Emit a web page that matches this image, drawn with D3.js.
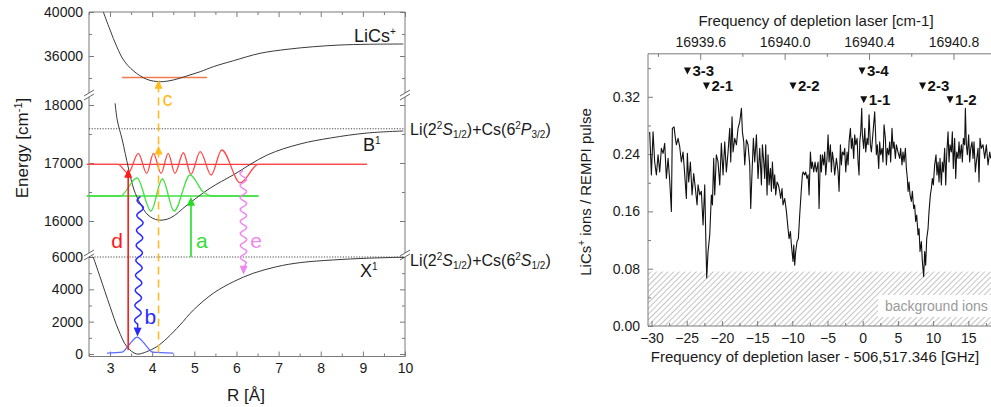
<!DOCTYPE html>
<html><head><meta charset="utf-8">
<script src="https://cdn.jsdelivr.net/npm/d3@7"></script>
<style>body{margin:0;background:#fff}svg{display:block}text{font-family:"Liberation Sans",Arial,sans-serif}</style>
</head><body><svg id="c" width="991" height="407"></svg>
<script>
// ================= LEFT PANEL DATA (R in Å, E in cm-1) =================
const xTicksR = [3,4,5,6,7,8,9,10];
const xMinorR = [2.5,3.5,4.5,5.5,6.5,7.5,8.5,9.5];
const yMajorTop = [36000,40000], yMinorTop = [34000,38000];
const yMajorMid = [16000,17000,18000], yMinorMid = [16500,17500];
const yMajorBot = [0,2000,4000,6000], yMinorBot = [1000,3000,5000];

const xStateR = [2.60,2.76,3.00,3.20,3.40,3.63,3.87,4.11,4.35,4.66,4.98,5.45,5.93,6.40,6.96,7.51,8.30,9.10,9.97];
const xStateE = [6000,4785,2930,1486,454,0,144,454,970,1795,2724,3757,4475,4995,5404,5652,5819,5924,5986];
const bStateR = [3.12,3.17,3.29,3.43,3.57,3.71,3.90,4.14,4.43,4.83,5.38,5.92,6.73,7.51,8.23,9.10,9.96];
const bStateE = [18030,17741,17396,16931,16534,16310,16103,16017,16052,16276,16569,16793,17138,17328,17431,17517,17552];
const ionR = [2.84,3.00,3.16,3.32,3.55,3.87,4.19,4.50,4.82,5.14,5.45,5.93,6.56,7.20,7.83,8.46,9.10,9.96];
const ionE = [40000,38360,36845,35636,34664,33882,33664,33818,34180,34573,35027,35573,36245,36609,36845,37000,37064,37090];

const asymP = 17590, asymS = 6000;
const redLevel = 16977, redLevelR = [2.45, 9.10];
const redWaveR = [2.45,3.19,3.43,3.67,3.87,4.03,4.21,4.38,4.54,4.74,4.92,5.14,5.40,5.65,6.09,6.52,9.10];
const redWaveE = [16977,16977,16822,17167,16822,17167,16822,17167,16822,17177,16805,17195,16793,17224,16660,16977,16977];
const greenLevel = 16431, greenLevelR = [2.45, 6.52];
const greenWaveR = [2.45,3.24,3.64,3.97,4.24,4.52,4.90,5.21,5.45,6.52];
const greenWaveE = [16431,16431,16741,16172,16724,16172,16793,16500,16431,16431];
const blueWaveR = [2.93,3.29,3.43,3.55,3.64,3.74,3.86,4.00,4.50];
const blueWaveE = [60,120,500,870,1050,870,500,120,60];
const ionLevel = 34040, ionLevelR = [3.28, 5.30];

const arrowD = {R:3.43, E0:250, E1:16900};
const arrowA = {R:4.92, E0:6000, E1:16420};
const arrowC = {R:4.15, E0:100, E1:33850, Emid:17300};
const waveB = {R0:3.72, E0:16420, R1:3.65, E1:1080};
const waveE = {R0:6.16, E0:16870, R1:6.17, E1:4900};

// ================= RIGHT PANEL DATA =================
const gTicks = [-30,-25,-20,-15,-10,-5,0,5,10,15];
const gMinor = [-27.5,-22.5,-17.5,-12.5,-7.5,-2.5,2.5,7.5,12.5,17.5];
const vTicks = [0,0.08,0.16,0.24,0.32];
const vMinor = [0.04,0.12,0.20,0.28,0.36];
const cmTicks = [16939.6,16940.0,16940.4,16940.8];
const cmMinor = [16939.4,16939.8,16940.2,16940.6,16941.0];
const cmAtZero = 16940.37, ghzPerCm = 29.98;
const bgLevel = 0.076;
const annLabels = ["3-3","2-1","2-2","3-4","1-1","2-3","1-2"];
const annX = [-24.9,-22.2,-9.9,-0.1,0.15,8.5,12.4];
const annY = [0.356,0.335,0.335,0.356,0.316,0.335,0.316];

const specX = [-30.26,-30.02,-29.78,-29.55,-29.31,-29.07,-28.84,-28.60,-28.36,-28.13,-27.89,-27.65,-27.42,-27.18,-27.04,-26.80,-26.61,-26.47,-26.23,-25.99,-25.76,-25.52,-25.28,-25.05,-24.91,-24.72,-24.48,-24.24,-24.01,-23.77,-23.53,-23.39,-23.15,-22.92,-22.68,-22.44,-22.30,-22.16,-21.97,-21.73,-21.50,-21.35,-21.17,-21.02,-20.79,-20.55,-20.31,-20.08,-19.84,-19.60,-19.37,-19.13,-18.89,-18.75,-18.56,-18.42,-18.18,-17.94,-17.71,-17.47,-17.23,-17.09,-16.90,-16.76,-16.52,-16.29,-16.05,-15.91,-15.72,-15.53,-15.34,-15.10,-14.87,
-14.63,-14.39,-14.25,-14.06,-13.92,-13.78,-13.59,-13.45,-13.30,-13.11,-12.97,-12.83,-12.64,-12.50,-12.36,-12.17,-11.98,-11.79,-11.65,-11.46,-11.32,-11.08,-10.84,-10.61,-10.46,-10.27,-10.13,-9.90,-9.80,-9.66,-9.52,-9.33,-9.14,-8.95,-8.71,-8.57,-8.47,-8.24,-8.10,-7.91,-7.76,-7.62,-7.43,-7.29,-7.15,-6.96,-6.77,-6.58,-6.34,-6.20,-6.01,-5.87,-5.73,-5.54,-5.40,-5.25,-5.07,-4.92,-4.78,-4.59,-4.45,-4.31,-4.12,-3.98,-3.74,-3.50,-3.36,-3.17,-3.03,-2.89,-2.70,-2.56,-2.41,-2.22,-2.08,-1.94,-1.75,-1.61,-1.47,-1.28,-1.14,-0.99,-0.80,-0.66,-0.52,-0.42,-0.28,-0.14,-0.05,0.14,0.29,0.43,0.62,0.76,0.90,1.09,1.23,1.47,
1.70,1.94,2.08,2.27,2.41,2.55,2.74,2.88,3.03,3.22,3.36,3.50,3.69,3.83,3.97,4.16,4.30,4.45,4.64,4.78,5.01,5.25,5.39,5.58,5.72,5.87,6.06,6.20,6.34,6.44,6.58,6.72,6.91,7.05,7.24,7.38,7.52,7.67,7.86,8.00,8.14,8.33,8.47,8.66,8.80,8.94,9.09,9.28,9.42,9.61,9.75,9.89,10.03,10.22,10.41,10.55,10.70,10.84,10.98,11.17,11.31,11.45,11.64,11.79,11.93,12.12,12.26,12.40,12.59,12.73,12.87,13.06,13.21,13.35,13.54,13.68,13.82,14.01,14.15,14.30,14.48,14.58,14.72,14.86,15.05,15.19,15.34,15.53,15.67,15.81,16.00,16.14,16.38,16.52,16.66,16.85,17.09,17.33,17.56,17.80,18.04,18.18];
const specY = [0.271,0.211,0.271,0.229,0.211,0.239,0.215,0.248,0.241,0.255,0.206,0.234,0.204,0.160,0.276,0.278,0.262,0.253,0.262,0.250,0.229,0.243,0.211,0.178,0.241,0.201,0.229,0.183,0.213,0.192,0.169,0.197,0.183,0.188,0.141,0.197,0.127,0.067,0.104,0.127,0.183,0.169,0.234,0.183,0.239,0.229,0.197,0.255,0.211,0.257,0.215,0.243,0.276,0.229,0.292,0.243,0.262,0.253,0.276,0.285,0.304,0.271,0.257,0.225,0.260,0.253,0.225,0.164,0.215,0.262,0.229,0.267,0.206,
0.248,0.197,0.253,0.229,0.206,0.253,0.183,0.239,0.197,0.220,0.188,0.229,0.192,0.211,0.183,0.201,0.197,0.188,0.178,0.192,0.169,0.178,0.160,0.136,0.122,0.132,0.113,0.090,0.113,0.085,0.104,0.118,0.122,0.155,0.192,0.211,0.215,0.211,0.215,0.206,0.211,0.183,0.243,0.220,0.229,0.215,0.229,0.215,0.229,0.164,0.239,0.215,0.239,0.225,0.243,0.211,0.234,0.267,0.229,0.253,0.215,0.243,0.229,0.211,0.234,0.215,0.188,0.253,0.225,0.243,0.239,0.248,0.215,0.243,0.225,0.257,0.276,0.248,0.262,0.234,0.267,0.253,0.262,0.229,0.211,0.257,0.271,0.304,0.267,0.248,0.276,0.243,0.262,0.253,0.295,0.253,0.243,0.271,
0.299,0.239,0.253,0.220,0.257,0.239,0.248,0.229,0.281,0.262,0.225,0.248,0.239,0.257,0.229,0.276,0.248,0.257,0.234,0.253,0.243,0.234,0.248,0.225,0.243,0.229,0.248,0.220,0.206,0.188,0.201,0.183,0.174,0.188,0.164,0.169,0.146,0.155,0.127,0.136,0.104,0.118,0.090,0.069,0.104,0.085,0.122,0.136,0.160,0.183,0.192,0.206,0.197,0.225,0.239,0.211,0.229,0.201,0.234,0.197,0.229,0.215,0.248,0.197,0.239,0.271,0.229,0.253,0.243,0.271,0.220,0.262,0.206,0.243,0.234,0.257,0.234,0.253,0.229,0.262,0.253,0.304,0.253,0.239,0.267,0.229,0.248,0.257,0.234,0.257,0.215,0.229,0.248,0.201,0.262,0.248,0.253,0.234,0.253,0.225,0.243,0.234];

// ================= DRAWING =================
const svg = d3.select("#c");
svg.append("rect").attr("width",991).attr("height",407).attr("fill","#fff");
const AX = "#7a7a7a", TXT = "#1a1a1a";

const xR = d3.scaleLinear().domain([2.5,10]).range([89,405]);
const yTop = d3.scaleLinear().domain([36000,40000]).range([56,12]);
const yMid = d3.scaleLinear().domain([16000,18000]).range([221,105]);
const yBot = d3.scaleLinear().domain([0,6000]).range([354,257]);
const yE = e => e > 25000 ? yTop(e) : (e > 10000 ? yMid(e) : yBot(e));
const LB = {l:89, r:405, t:12, b:356.5};
const breaks = [95, 255];

const L = svg.append("g");
function styleAxis(g){ g.select(".domain").remove(); g.selectAll("line").attr("stroke",AX);
  g.selectAll("text").attr("fill",TXT).style("font-size","14px"); }

[[yTop,yMajorTop,yMinorTop],[yMid,yMajorMid,yMinorMid],[yBot,yMajorBot,yMinorBot]].forEach(([s,maj,min])=>{
  L.append("g").attr("transform",`translate(${LB.l},0)`).call(d3.axisLeft(s).tickValues(maj).tickSize(-5).tickPadding(6).tickFormat(d3.format("d"))).call(styleAxis);
  L.append("g").attr("transform",`translate(${LB.l},0)`).call(d3.axisLeft(s).tickValues(min).tickSize(-3).tickFormat("")).call(styleAxis);
  L.append("g").attr("transform",`translate(${LB.r},0)`).call(d3.axisRight(s).tickValues(maj).tickSize(-5).tickFormat("")).call(styleAxis);
  L.append("g").attr("transform",`translate(${LB.r},0)`).call(d3.axisRight(s).tickValues(min).tickSize(-3).tickFormat("")).call(styleAxis);
});
L.append("g").attr("transform",`translate(0,${LB.b})`).call(d3.axisBottom(xR).tickValues(xTicksR).tickSize(-5).tickPadding(7).tickFormat(d3.format("d"))).call(styleAxis);
L.append("g").attr("transform",`translate(0,${LB.b})`).call(d3.axisBottom(xR).tickValues(xMinorR).tickSize(-3).tickFormat("")).call(styleAxis);
L.append("g").attr("transform",`translate(0,${LB.t})`).call(d3.axisTop(xR).tickValues(xTicksR).tickSize(-5).tickFormat("")).call(styleAxis);
L.append("g").attr("transform",`translate(0,${LB.t})`).call(d3.axisTop(xR).tickValues(xMinorR).tickSize(-3).tickFormat("")).call(styleAxis);

L.append("line").attr("x1",LB.l).attr("x2",LB.r).attr("y1",LB.t).attr("y2",LB.t).attr("stroke",AX);
L.append("line").attr("x1",LB.l).attr("x2",LB.r).attr("y1",LB.b).attr("y2",LB.b).attr("stroke",AX);
[LB.l,LB.r].forEach(x=>{
  const ys=[LB.t,breaks[0]-2,breaks[0]+2,breaks[1]-2,breaks[1]+2,LB.b];
  for(let i=0;i<ys.length;i+=2) L.append("line").attr("x1",x).attr("x2",x).attr("y1",ys[i]).attr("y2",ys[i+1]).attr("stroke",AX);
  breaks.forEach(y=>{
    [-2,2].forEach(o=>L.append("line").attr("x1",x-5).attr("y1",y+o+3).attr("x2",x+5).attr("y2",y+o-3).attr("stroke","#555").attr("stroke-width",0.9));
  });
});

[asymP, asymS].forEach(e=>L.append("line").attr("x1",LB.l).attr("x2",LB.r).attr("y1",yE(e)).attr("y2",yE(e))
  .attr("stroke","#333").attr("stroke-width",0.9).attr("stroke-dasharray","1.2,1.5"));

const lineRE = d3.line().x(d=>xR(d[0])).y(d=>yE(d[1])).curve(d3.curveMonotoneX);
const zip = (a,b)=>a.map((v,i)=>[v,b[i]]);
const lineRENat = d3.line().x(d=>xR(d[0])).y(d=>yE(d[1])).curve(d3.curveCatmullRom.alpha(0.5));

L.append("path").attr("d",lineRE(zip(redLevelR,[redLevel,redLevel]))).attr("stroke","#ff3b3b").attr("stroke-width",1.4).attr("fill","none");
L.append("path").attr("d",lineRE(zip(greenLevelR,[greenLevel,greenLevel]))).attr("stroke","#3ee03e").attr("stroke-width",1.4).attr("fill","none");
L.append("path").attr("d",lineRE(zip(ionLevelR,[ionLevel,ionLevel]))).attr("stroke","#f47a4a").attr("stroke-width",1.4).attr("fill","none");

[[xStateR,xStateE],[bStateR,bStateE],[ionR,ionE]].forEach(([r,e])=>
  L.append("path").attr("d",lineRENat(zip(r,e))).attr("stroke","#3a3a3a").attr("stroke-width",1).attr("fill","none"));

L.append("path").attr("d",lineRE(zip(redWaveR,redWaveE))).attr("stroke","#ff4a4a").attr("stroke-width",1.3).attr("fill","none");
L.append("path").attr("d",lineRE(zip(greenWaveR,greenWaveE))).attr("stroke","#44e044").attr("stroke-width",1.3).attr("fill","none");
L.append("path").attr("d",lineRE(zip(blueWaveR,blueWaveE))).attr("stroke","#5a6cff").attr("stroke-width",1.3).attr("fill","none");

function arrowHead(g,x,y,ux,uy,col,len=9,hw=4){
  const px=-uy,py=ux, bx=x-ux*len, by=y-uy*len;
  g.append("path").attr("d",`M${x},${y}L${bx+px*hw},${by+py*hw}L${bx-px*hw},${by-py*hw}Z`).attr("fill",col);
}
function straightArrow(g,R,E0,E1,col,dash){
  const x=xR(R), y0=yE(E0), y1=yE(E1);
  g.append("line").attr("x1",x).attr("x2",x).attr("y1",y0).attr("y2",y1+6).attr("stroke",col).attr("stroke-width",1.6)
   .attr("stroke-dasharray",dash||null);
  arrowHead(g,x,y1,0,Math.sign(y1-y0),col);
}
function wavyArrow(g,w,col,amp,wl){
  const x1=xR(w.R0),y1=yE(w.E0),x2=xR(w.R1),y2=yE(w.E1);
  const len=Math.hypot(x2-x1,y2-y1), ux=(x2-x1)/len, uy=(y2-y1)/len, px=-uy, py=ux;
  const pts=[]; const wlen=len-12;
  for(let t=0;t<=wlen;t+=0.5){const s=amp*Math.sin(2*Math.PI*t/wl); pts.push([x1+ux*t+px*s,y1+uy*t+py*s]);}
  pts.push([x1+ux*(len-6),y1+uy*(len-6)]);
  g.append("path").attr("d",d3.line()(pts)).attr("stroke",col).attr("stroke-width",1.5).attr("fill","none");
  arrowHead(g,x2,y2,ux,uy,col);
}
const lbl = (g,x,y,t,col,fs=21)=>g.append("text").attr("x",x).attr("y",y).attr("fill",col).style("font-size",fs+"px").text(t);

straightArrow(L,arrowD.R,arrowD.E0,arrowD.E1,"#ff1a1a");
straightArrow(L,arrowA.R,arrowA.E0,arrowA.E1,"#22dd22");
straightArrow(L,arrowC.R,arrowC.E0,arrowC.E1,"#ffbb20","8,5");
arrowHead(L,xR(arrowC.R),yE(arrowC.Emid),0,-1,"#ffbb20");
wavyArrow(L,waveB,"#2a2aff",3.2,15);
wavyArrow(L,waveE,"#ee88ee",3.2,12);

lbl(L,xR(arrowD.R)-17,248,"d","#ff1a1a");
lbl(L,xR(arrowA.R)+5,248,"a","#33dd33");
lbl(L,xR(arrowC.R)+4,106,"c","#ffbb20",20);
lbl(L,xR(waveB.R0)+4,324,"b","#2a2aff");
lbl(L,xR(waveE.R0)+7,248,"e","#ee88ee");

function stateLabel(x,y,main,sup){const t=L.append("text").attr("x",x).attr("y",y).attr("fill",TXT).style("font-size","18px");
  t.append("tspan").text(main); t.append("tspan").attr("dy",-7).style("font-size","10px").text(sup);}
stateLabel(354,42,"LiCs","+");
stateLabel(363,151,"B","1");
stateLabel(360,277,"X","1");
function asymLabel(y,p,pj){
  const t=L.append("text").attr("x",410).attr("y",y).attr("fill",TXT).style("font-size","16px");
  t.append("tspan").text("Li(2");
  t.append("tspan").attr("dy",-6).style("font-size","10px").text("2");
  t.append("tspan").attr("dy",6).style("font-style","italic").text("S");
  t.append("tspan").attr("dy",3).style("font-size","10px").text("1/2");
  t.append("tspan").attr("dy",-3).text(")+Cs(6");
  t.append("tspan").attr("dy",-6).style("font-size","10px").text("2");
  t.append("tspan").attr("dy",6).style("font-style","italic").text(p);
  t.append("tspan").attr("dy",3).style("font-size","10px").text(pj);
  t.append("tspan").attr("dy",-3).text(")");
}
asymLabel(yE(asymP)+6,"P","3/2");
asymLabel(yE(asymS)+9,"S","1/2");

const et = L.append("text").attr("transform","translate(28,148) rotate(-90)").attr("text-anchor","middle").attr("fill",TXT).style("font-size","17px");
et.append("tspan").text("Energy [cm"); et.append("tspan").attr("dy",-6).style("font-size","11px").text("-1"); et.append("tspan").attr("dy",6).text("]");
L.append("text").attr("x",246).attr("y",401).attr("text-anchor","middle").attr("fill",TXT).style("font-size","17px").text("R [Å]");

// ================= RIGHT PANEL =================
const R = svg.append("g");
const xG = d3.scaleLinear().domain([-30.5,21]).range([648,648+51.5*7.04]);
const yV = d3.scaleLinear().domain([0,0.38]).range([326,326-0.38*716.25]);
const xCm = d3.scaleLinear().domain(xG.domain().map(g=>cmAtZero+g/ghzPerCm)).range(xG.range());
const RB = {l:648, r:991, t:yV(0.38), b:326};

const defs = svg.append("defs");
const pat = defs.append("pattern").attr("id","hatch").attr("patternUnits","userSpaceOnUse").attr("width",4).attr("height",4)
  .attr("patternTransform","rotate(45)");
pat.append("line").attr("x1",0).attr("y1",0).attr("x2",0).attr("y2",4).attr("stroke","#8a8a8a").attr("stroke-width",1);
R.append("rect").attr("x",RB.l).attr("y",yV(bgLevel)).attr("width",RB.r-RB.l).attr("height",yV(0)-yV(bgLevel)).attr("fill","url(#hatch)");
R.append("rect").attr("x",878).attr("y",295).attr("width",115).attr("height",22).attr("fill","#fff");
R.append("text").attr("x",885).attr("y",311).attr("fill","#9a9a9a").style("font-size","14px").text("background ions");

R.append("g").attr("transform",`translate(${RB.l},0)`).call(d3.axisLeft(yV).tickValues(vTicks).tickSize(-5).tickPadding(8).tickFormat(d3.format(".2f"))).call(styleAxis);
R.append("g").attr("transform",`translate(${RB.l},0)`).call(d3.axisLeft(yV).tickValues(vMinor).tickSize(-3).tickFormat("")).call(styleAxis);
R.append("g").attr("transform",`translate(0,${RB.b})`).call(d3.axisBottom(xG).tickValues(gTicks).tickSize(-5).tickPadding(7).tickFormat(d3.format("d"))).call(styleAxis);
R.append("g").attr("transform",`translate(0,${RB.b})`).call(d3.axisBottom(xG).tickValues(gMinor).tickSize(-3).tickFormat("")).call(styleAxis);
R.append("g").attr("transform",`translate(0,${RB.t})`).call(d3.axisTop(xCm).tickValues(cmTicks).tickSize(-6).tickPadding(7).tickFormat(d3.format(".1f"))).call(styleAxis);
R.append("g").attr("transform",`translate(0,${RB.t})`).call(d3.axisTop(xCm).tickValues(cmMinor).tickSize(-3).tickFormat("")).call(styleAxis);
R.append("line").attr("x1",RB.l).attr("x2",RB.l).attr("y1",RB.t).attr("y2",RB.b).attr("stroke",AX);
R.append("line").attr("x1",RB.l).attr("x2",RB.r).attr("y1",RB.t).attr("y2",RB.t).attr("stroke",AX);
R.append("line").attr("x1",RB.l).attr("x2",RB.r).attr("y1",RB.b).attr("y2",RB.b).attr("stroke",AX);

R.append("path").attr("d",d3.line().x(d=>xG(d[0])).y(d=>yV(d[1]))(zip(specX,specY)))
  .attr("fill","none").attr("stroke","#111").attr("stroke-width",1.1).attr("stroke-linejoin","round");

annLabels.forEach((t,i)=>{
  const x=xG(annX[i]), y=yV(annY[i]);
  R.append("path").attr("d",`M${x-3.5},${y-3.5}L${x+3.5},${y-3.5}L${x},${y+3.5}Z`).attr("fill","#111");
  R.append("text").attr("x",x+5).attr("y",y+5).attr("fill","#111").style("font-size","15px").style("font-weight","bold").text(t);
});

R.append("text").attr("x",816).attr("y",26).attr("text-anchor","middle").attr("fill",TXT).style("font-size","15px").text("Frequency of depletion laser [cm-1]");
R.append("text").attr("x",815).attr("y",362).attr("text-anchor","middle").attr("fill",TXT).style("font-size","15px").text("Frequency of depletion laser - 506,517.346 [GHz]");
const yl = R.append("text").attr("transform","translate(591,192) rotate(-90)").attr("text-anchor","middle").attr("fill",TXT).style("font-size","15px");
yl.append("tspan").text("LiCs"); yl.append("tspan").attr("dy",-6).style("font-size","10px").text("+"); yl.append("tspan").attr("dy",6).text(" ions / REMPI pulse");
</script></body></html>
